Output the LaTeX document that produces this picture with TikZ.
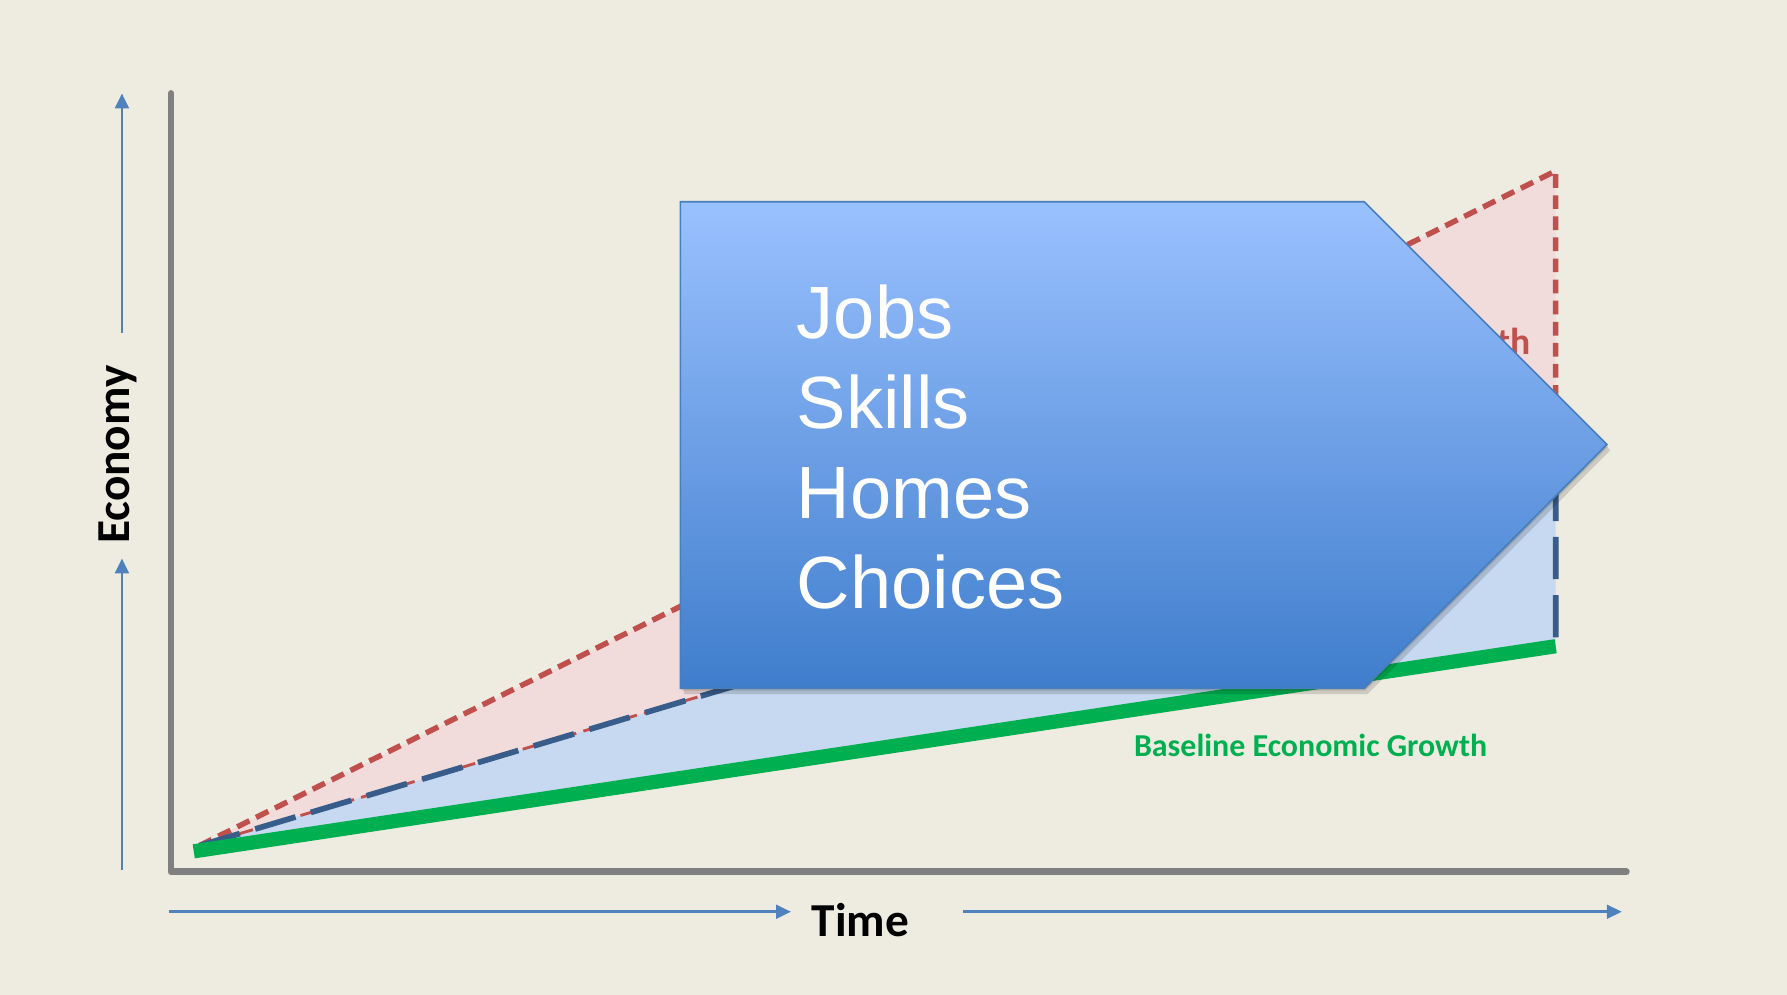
\documentclass[tikz,border=0pt]{standalone}
\usepackage{fontspec}
\setmainfont{Carlito}
\newfontfamily\boxfont{Liberation Sans}
\usetikzlibrary{arrows.meta}
\definecolor{bgtan}{HTML}{EEECE1}
\definecolor{axisgray}{HTML}{808080}
\definecolor{arrowblue}{HTML}{4F81BD}
\definecolor{basegreen}{HTML}{00B050}
\definecolor{highred}{HTML}{C0504D}
\definecolor{redfill}{HTML}{F2DCDB}
\definecolor{bluefill}{HTML}{C6D9F1}
\definecolor{midblue}{HTML}{385D8A}
\definecolor{boxtop}{HTML}{9AC1FF}
\definecolor{boxbottom}{HTML}{3F7DCC}
\definecolor{boxline}{HTML}{4A7EBB}
\begin{document}
\begin{tikzpicture}[x=1pt,y=-1pt,
	axisline/.style={draw=axisgray,line width=6pt,line join=round,line cap=round},
	dirarrow/.style={draw=arrowblue,line width=2.3pt,-{Triangle[length=13pt,width=12pt]}},
	axislabel/.style={font=\bfseries\fontsize{41.5}{50}\selectfont,inner sep=0pt,anchor=base},
	boxtext/.style={font=\boxfont\fontsize{65}{78}\selectfont,text=white,inner sep=0pt,anchor=base west}]
	\fill[bgtan] (0,0) rectangle (1568,873);
	\useasboundingbox (0,0) rectangle (1568,873);
	
	\coordinate (Ytop) at (150,82);
	\coordinate (C) at (150,765);
	\coordinate (Xend) at (1427,765);
	\coordinate (O) at (175,742);
	\coordinate (G0) at (170,747);
	\coordinate (Gend) at (1365,567);
	\coordinate (Rtop) at (1365,150);
	\coordinate (Btop) at (1365,387);
	
	% growth areas
	\fill[redfill] (O) -- (Rtop) -- (Btop) -- cycle;
	\fill[bluefill] (O) -- (Btop) -- (Gend) -- (G0) -- cycle;
	\node[font=\bfseries\fontsize{33}{40}\selectfont,text=highred,inner sep=0pt,anchor=base east] (high) at (1343,311) {Growth};
	\draw[highred,line width=2.5pt,dash pattern=on 12pt off 6.5pt] (O) -- (Btop);
	\draw[highred,line width=4.8pt,dash pattern=on 12pt off 6.5pt] (O) -- (Rtop) -- (Btop);
	\draw[midblue,line width=5pt,dash pattern=on 37pt off 14pt] (O) -- (Btop) -- (Gend);
	\draw[basegreen,line width=12.5pt] (G0) -- (Gend);
	\node[font=\bfseries\fontsize{28}{34}\selectfont,text=basegreen,inner sep=0pt,anchor=base] (base) at (1150,664) {Baseline Economic Growth};
	
	% axes
	\draw[axisline] (Ytop) -- (C) -- (Xend);
	\node[axislabel,rotate=90] (econ) at (114,399) {Economy};
	\node[axislabel] (time) at (755,822) {Time};
	\coordinate (E1) at (107,763);
	\coordinate (E2) at (107,490);
	\coordinate (E3) at (107,292);
	\coordinate (E4) at (107,82);
	\coordinate (T1) at (148,800);
	\coordinate (T2) at (694,800);
	\coordinate (T3) at (845,800);
	\coordinate (T4) at (1423,800);
	\draw[dirarrow] (E1) -- (E2);
	\draw[dirarrow] (E3) -- (E4);
	\draw[dirarrow] (T1) -- (T2);
	\draw[dirarrow] (T3) -- (T4);
	
	% arrow box
	\fill[black,opacity=0.12,shift={(1,2)}] (597,177) -- (1197,177) -- (1410,390) -- (1197,604) -- (597,604) -- cycle;
	\fill[black,opacity=0.14,shift={(3,5)}] (597,177) -- (1197,177) -- (1410,390) -- (1197,604) -- (597,604) -- cycle;
	\shade[top color=boxtop,bottom color=boxbottom,draw=boxline,line width=1.5pt]
		(597,177) -- (1197,177) -- (1410,390) -- (1197,604) -- (597,604) -- cycle;
	\foreach \word [count=\i] in {Jobs,Skills,Homes,Choices}
		\node[boxtext] (line\i) at (699,{218+79*\i}) {\word};
\end{tikzpicture}
\end{document}
